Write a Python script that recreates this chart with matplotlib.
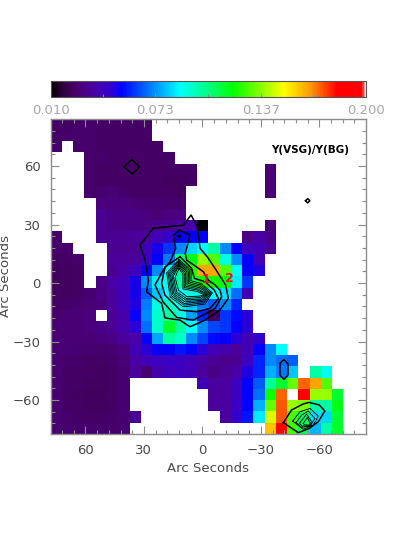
import numpy as np
import matplotlib
matplotlib.use("Agg")
import matplotlib.pyplot as plt
from matplotlib.colors import LinearSegmentedColormap

n = np.nan

# Y(VSG)/Y(BG) map, in units of 0.001, top row first
r00 = [24, 24, 25, 25, 24, 24, 24, 24, 24] + [n] * 19
r01 = [24, 25, 25, 25, 24, 24, 24, 24, 24] + [n] * 19
r02 = [25, n, 25, 25, 24, 24, 24, 24, 24, 24] + [n] * 18
r03 = [n] * 3 + [25, 25, 24, 24, 24, 24, 24, 24] + [n] * 17
r04 = [n] * 3 + [25, 24, 24, 24, 24, 24, 24, 24, 24, 24] + [n] * 6 + [27] + [n] * 8
r05 = [n] * 3 + [25, 24, 24, 24, 24, 24, 24, 23, 23, 24] + [n] * 6 + [27] + [n] * 8
r06 = [n] * 3 + [25, 26, 27, 25, 24, 24, 24, 24, 22] + [n] * 7 + [27] + [n] * 8
r07 = [n] * 4 + [28, 28, 28, 27, 26, 26, 25, 25] + [n] * 16
r08 = [n] * 4 + [32, 30, 30, 30, 28, 27, 28, 30] + [n] * 16
r09 = [n] * 4 + [32, 30, 30, 30, 30, 31, 32, 34, 38, 10] + [n] * 5 + [27] + [n] * 8
r10 = [25, n, n, n, 32, 32, 33, 34, 35, 40, 45, 52, 53, 53, n, n, n, 30, 36, 30] + [n] * 8
r11 = [25, 25, n, n, n, 32, 32, 33, 40, 50, 60, 72, 82, 88, 100, 72, 53, 42, 40, 33] + [n] * 8
r12 = [23, 24, 25, n, n, 34, 34, 34, 44, 53, 70, 105, 118, 138, 130, 92, 72, 53, 40] + [n] * 9
r13 = [22, 23, 24, n, n, 32, 36, 42, 53, 72, 88, 100, 125, 165, 165, 130, 90, 53, 48] + [n] * 9
r14 = [22, 23, 24, n, 30, 36, 40, 50, 72, 85, 90, 100, 110, 120, 122, 118, 85, 60] + [n] * 10
r15 = [23, 23, 24, 26, 30, 34, 40, 50, 65, 80, 88, 90, 92, 92, 88, 84, 68, 40] + [n] * 10
r16 = [24, 25, 26, 27, 28, 34, 40, 48, 70, 92, 95, 88, 80, 70, 65, 72, 58] + [n] * 11
r17 = [26, 27, 27, 28, n, 33, 38, 52, 72, 95, 100, 92, 75, 58, 22, 60, 54, 47] + [n] * 10
r18 = [27, 27, 27, 28, 30, 33, 38, 47, 68, 95, 115, 100, 88, 72, 62, 60, 53, 47] + [n] * 10
r19 = [27, 27, 27, 27, 28, 30, 34, 36, 52, 76, 100, 95, 72, 62, 54, 52, 47, 40, 45] + [n] * 9
r20 = [27, 27, 26, 26, 25, 26, 28, 40, 47, 52, 53, 56, 53, 47, 40, 38, 34, 40, 52, 72, 88] + [n] * 7
r21 = [26, 25, 25, 24, 24, 25, 27, 36, 40, 42, 44, 43, 40, 36, 33, 31, 32, 42, 58, 72, 68, 66] + [n] * 6
r22 = [26, 24, 24, 24, 23, 24, 26, 34, 26, 38, 40, 42, 40, 35, 30, 33, 36, 48, 58, 77, 70, 80, n, 100, 90] + [n] * 3
r23 = [26, 24, 24, 23, 23, 24, 26] + [n] * 6 + [40, 35, 35, 42, 53, 65, 102, 114, 132, 172, 165, 130] + [n] * 3
r24 = [26, 24, 23, 22, 22, 24, 26] + [n] * 7 + [34, 35, 42, 53, 68, 122, 172, n, 183, 138, 138, 114] + [n] * 2
r25 = [26, 24, 24, 23, 23, 24, 26] + [n] * 7 + [34, 35, 44, 53, 77, 132, 174, 138, 135, 100, 100, 118] + [n] * 2
r26 = [26, 25, 24, 24, 24, 25, 26, 32] + [n] * 7 + [35, 45, 56, 85, 146, 174, 128, 108, 84, 82, 114] + [n] * 2
r27 = [26, 25, 25, 25, 25, 25, 26] + [n] * 12 + [160, 183, 128, 108, 78, 100, 115] + [n] * 2

ratio = np.array([r00, r01, r02, r03, r04, r05, r06, r07, r08, r09, r10, r11, r12, r13,
                  r14, r15, r16, r17, r18, r19, r20, r21, r22, r23, r24, r25, r26, r27]) / 1000.0

# contour traces in arc seconds (x, y)
c_outer = [(25.2, 28.1), (32.0, 19.5), (29.4, 11.8), (27.7, 1.5), (28.6, -4.5), (20.9, -10.4),
           (19.2, -17.9), (11.5, -19.0), (6.4, -22.4), (-1.3, -19.0), (-9.0, -13.8), (-13.3, -7.8),
           (-11.9, -1.0), (-6.5, 7.5), (-2.5, 13.5), (1.2, 17.8), (2.6, 28.9), (5.8, 34.9), (9.8, 29.7)]
c_second = [(11.8, 27.2), (6.4, 24.6), (8.1, 17.8), (8.8, 15.2), (8.1, 11.8), (1.2, 7.0), (-0.5, 5.8),
            (-3.0, 1.5), (-6.5, -1.0), (-9.0, -3.6), (-9.9, -7.0), (-6.5, -13.0), (-0.5, -16.4),
            (4.8, -19.0), (13.2, -17.6), (20.2, -9.6), (24.3, -1.0), (20.1, 6.7), (16.6, 10.9),
            (13.7, 17.8), (14.9, 24.6)]
c_third = [(11.5, 13.5), (5.5, 7.5), (4.1, 2.4), (-1.35, 0.65), (-6.1, -3.6), (-8.2, -7.9), (-3.9, -13.0),
           (2.9, -14.7), (11.5, -13.9), (14.0, -11.3), (19.2, -6.2), (20.9, -0.2), (19.2, 8.3)]
c_dense1 = [(12.0, 12.1), (5.8, 6.6), (5.8, 1.2), (0.7, -0.2), (-5.1, -5.0), (-1.35, -10.8), (9.8, -12.2),
            (16.6, -7.0), (18.3, 5.3)]
c_dense2 = [(12.0, 11.4), (6.5, 6.3), (6.5, 0.5), (1.0, -0.9), (-4.4, -5.2), (-0.8, -10.1), (9.4, -11.3),
            (15.9, -6.5), (17.6, 4.9)]
c_dense3 = [(12.0, 10.7), (7.2, 5.9), (7.2, -0.2), (1.4, -1.6), (-3.7, -5.3), (-0.3, -9.4), (9.3, -10.5),
            (15.2, -6.0), (16.9, 4.6)]
c_dense4 = [(12.0, 10.1), (7.9, 5.6), (7.9, -0.9), (1.7, -2.3), (-3.1, -5.5), (0.2, -8.8), (8.9, -9.6),
            (14.6, -5.5), (16.3, 4.2)]
c_dense5 = [(12.0, 9.4), (8.6, 5.3), (8.6, -1.6), (2.1, -3.0), (-2.4, -5.7), (0.7, -8.1), (8.6, -8.7),
            (13.9, -5.0), (15.6, 3.9)]
c_dense6 = [(12.0, 8.7), (9.3, 4.9), (9.3, -2.3), (2.4, -3.6), (-1.7, -5.8), (1.2, -7.4), (8.2, -7.9),
            (13.2, -4.5), (14.9, 3.6)]
c_dense7 = [(12.0, 7.5), (10.0, 4.6), (10.0, -3.0), (2.8, -4.3), (-1.0, -6.0), (1.7, -6.7), (7.9, -7.0),
            (12.3, -3.6), (14.0, 2.9)]
c_dot = [(12.3, 24.3), (11.3, 24.3), (11.8, 23.0)]
c_diamond = [(40.2, 59.6), (36.2, 63.4), (32.3, 59.6), (35.9, 55.9)]
c_small = [(-52.9, 42.2), (-54.0, 43.3), (-55.1, 42.2), (-54.0, 41.1)]
c_hex = [(-39.8, -41.2), (-41.8, -39.1), (-43.9, -41.5), (-43.9, -47.2), (-41.8, -49.4), (-39.8, -47.2)]
c_sw1 = [(-41.5, -71.6), (-45.7, -65.1), (-51.7, -62.0), (-54.6, -61.2), (-59.9, -62.5), (-62.8, -65.6),
         (-59.4, -71.1), (-54.8, -74.5), (-49.2, -76.7)]
c_sw2 = [(-46.3, -70.8), (-50.0, -66.0), (-55.2, -64.3), (-59.4, -68.2), (-56.9, -72.8), (-51.7, -75.0)]
c_sw3 = [(-48.0, -71.6), (-50.9, -67.7), (-54.3, -65.6), (-57.7, -69.4), (-55.2, -73.3), (-50.9, -74.0)]
c_sw4 = [(-49.7, -72.0), (-53.4, -67.2), (-56.0, -71.1), (-54.3, -73.3), (-51.2, -73.3)]
c_sw5 = [(-51.7, -72.0), (-53.8, -68.9), (-55.7, -72.8), (-52.6, -72.8)]

wide_traces = [c_outer, c_second, c_third, c_dot, c_diamond, c_small, c_hex, c_sw1]
thin_traces = [c_dense1, c_dense2, c_dense3, c_dense4, c_dense5, c_dense6, c_dense7,
               c_sw2, c_sw3, c_sw4, c_sw5]

major_ticks = [60, 30, 0, -30, -60]
x_labels = ['60', '30', '0', '\u221230', '\u221260']
bar_ticks = [0.010, 0.073, 0.137, 0.200]
bar_labels = ['0.010', '0.073', '0.137', '0.200']

# rainbow with a black start and a white end, as in the colour bar
cmap = LinearSegmentedColormap.from_list('idl', [
    (0.0, '#000000'), (0.03, '#2a0035'), (0.06, '#40005a'), (0.09, '#4a0078'), (0.13, '#4a00a0'),
    (0.18, '#3a00c8'), (0.225, '#0000ff'), (0.33, '#0090ff'), (0.41, '#00ffff'), (0.50, '#00ff80'),
    (0.58, '#00ff00'), (0.74, '#ffff00'), (0.82, '#ffa000'), (0.91, '#ff0000'), (0.99, '#ff0000'),
    (1.0, '#ffffff')], N=256)

axis_grey = '#8c8c8c'
text_grey = '#4a4a4a'

fig = plt.figure(figsize=(4.07, 5.40), dpi=100)
ax = fig.add_axes([50.7 / 407, 1 - 434 / 540, 315.3 / 407, 315.3 / 540])
cax = fig.add_axes([50.7 / 407, 1 - 97.3 / 540, 315.3 / 407, 16.3 / 540])

x_edges = np.linspace(77.8, -83.9, 29)
y_edges = np.linspace(84.3, -77.4, 29)
mesh = ax.pcolormesh(x_edges, y_edges, ratio, cmap=cmap, vmin=0.01, vmax=0.2)

for trace in wide_traces:
    xs = [p[0] for p in trace] + [trace[0][0]]
    ys = [p[1] for p in trace] + [trace[0][1]]
    ax.plot(xs, ys, color='black', linewidth=1.1)
for trace in thin_traces:
    xs = [p[0] for p in trace] + [trace[0][0]]
    ys = [p[1] for p in trace] + [trace[0][1]]
    ax.plot(xs, ys, color='black', linewidth=0.65)

ax.text(-1.7, 1.9, '1', color='#ee1030', fontsize=9, fontweight='bold', ha='center', va='center')
ax.text(-13.6, 2.1, '2', color='#ee1030', fontsize=9, fontweight='bold', ha='center', va='center')
ax.text(-55.2, 68.2, 'Y(VSG)/Y(BG)', color='black', fontsize=7.5, fontweight='bold', ha='center', va='center')

ax.set_xlim(77.8, -83.9)
ax.set_ylim(-77.4, 84.3)
ax.set_xticks(major_ticks)
ax.set_xticklabels(x_labels)
ax.set_yticks(major_ticks)
ax.set_yticklabels(x_labels, rotation=0)
ax.set_xticks(np.arange(-78, 78, 6), minor=True)
ax.set_yticks(np.arange(-72, 84, 6), minor=True)
ax.tick_params(which='major', direction='in', length=6, width=0.8, color=axis_grey, top=True, right=True,
               labelcolor=text_grey, labelsize=9.5, pad=7)
ax.tick_params(which='minor', direction='in', length=3, width=0.8, color=axis_grey, top=True, right=True)
ax.set_xlabel('Arc Seconds', color=text_grey, fontsize=9.5, labelpad=4)
ax.set_ylabel('Arc Seconds', color=text_grey, fontsize=9.5, labelpad=1)
for spine in ax.spines.values():
    spine.set_color(axis_grey)
    spine.set_linewidth(1.0)

cbar = fig.colorbar(mesh, cax=cax, orientation='horizontal')
cbar.set_ticks(bar_ticks)
cbar.set_ticklabels(bar_labels)
cbar.ax.tick_params(which='major', direction='in', length=3, width=0.8, color=axis_grey,
                    labelcolor='#a8a8a8', labelsize=9.5, pad=5)
cbar.ax.set_xticks([0.0415, 0.105, 0.1685], minor=True)
cbar.ax.tick_params(which='minor', direction='in', length=2, width=0.8, color=axis_grey)
cbar.outline.set_edgecolor('#555555')
cbar.outline.set_linewidth(0.8)

fig.savefig('out.png', dpi=100)
